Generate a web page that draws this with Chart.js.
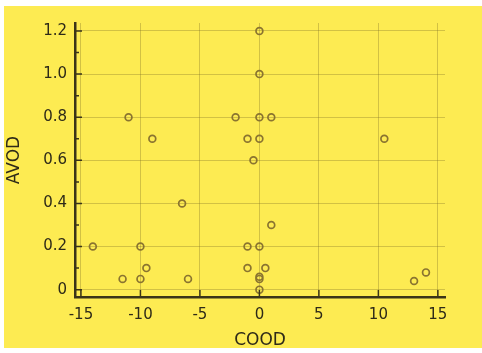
<!DOCTYPE html>
<html>
<head>
<meta charset="utf-8">
<script src="https://cdn.jsdelivr.net/npm/chart.js@4.4.1/dist/chart.umd.min.js"></script>
<style>
  html, body { margin: 0; padding: 0; background: #ffffff; }
  #wrap {
    position: absolute;
    left: 4px;
    top: 6px;
    width: 478px;
    height: 342px;
    background: #fdeb52;
  }
</style>
</head>
<body>
<div id="wrap"><canvas id="scatter"></canvas></div>
<script>
// axis ticks
const xTicks = [-15, -10, -5, 0, 5, 10, 15];
const yTicks = [0, 0.2, 0.4, 0.6, 0.8, 1.0, 1.2];
const yMinorTicks = [0.1, 0.3, 0.5, 0.7, 0.9, 1.1];

// data
const coodValues = [0, 0, -11, -2, 0, 1, -9, -1, 0, 10.5, -0.5, -6.5, 1, -14, -10, -1, 0, -9.5, -1, 0.5, -11.5, -10, -6, 0, 0, 0, 13, 14];
const avodValues = [1.2, 1.0, 0.8, 0.8, 0.8, 0.8, 0.7, 0.7, 0.7, 0.7, 0.6, 0.4, 0.3, 0.2, 0.2, 0.2, 0.2, 0.1, 0.1, 0.1, 0.05, 0.05, 0.05, 0.05, 0.06, 0, 0.04, 0.08];

const points = coodValues.map((x, i) => ({ x: x, y: avodValues[i] }));

const inkColor = "#2e2a18";
const axisColor = "#3a3418";
const gridColor = "rgba(130, 115, 40, 0.35)";

// tick marks drawn inward from the axis lines
const innerTicks = {
  id: "innerTicks",
  afterDraw(chart) {
    const ctx = chart.ctx;
    const area = chart.chartArea;
    const sx = chart.scales.x;
    const sy = chart.scales.y;
    ctx.save();
    ctx.strokeStyle = axisColor;
    ctx.lineWidth = 1.5;
    ctx.beginPath();
    xTicks.forEach((v) => {
      const px = sx.getPixelForValue(v);
      ctx.moveTo(px, area.bottom);
      ctx.lineTo(px, area.bottom - 7);
    });
    yTicks.forEach((v) => {
      const py = sy.getPixelForValue(v);
      ctx.moveTo(area.left, py);
      ctx.lineTo(area.left + 7, py);
    });
    yMinorTicks.forEach((v) => {
      const py = sy.getPixelForValue(v);
      ctx.moveTo(area.left, py);
      ctx.lineTo(area.left + 4, py);
    });
    ctx.stroke();
    ctx.restore();
  },
};

const ctx = document.getElementById("scatter").getContext("2d");

const scatterChart = new Chart(ctx, {
  type: "scatter",
  data: {
    datasets: [
      {
        data: points,
        pointRadius: 3.4,
        pointHoverRadius: 3.4,
        pointBorderWidth: 1.7,
        pointBorderColor: "#8a7430",
        pointBackgroundColor: "rgba(0,0,0,0)",
      },
    ],
  },
  plugins: [innerTicks],
  options: {
    responsive: true,
    maintainAspectRatio: false,
    animation: false,
    layout: {
      padding: { top: 15, right: 37, left: 0, bottom: 0 },
    },
    plugins: {
      legend: { display: false },
      tooltip: { enabled: false },
    },
    scales: {
      x: {
        type: "linear",
        min: -15.5,
        max: 15.6,
        afterBuildTicks: (s) => {
          s.ticks = xTicks.map((v) => ({ value: v }));
        },
        afterFit: (s) => {
          s.height = 51;
        },
        grid: { color: gridColor, lineWidth: 1, drawTicks: false },
        border: { color: axisColor, width: 2.5 },
        ticks: {
          padding: 9,
          color: inkColor,
          font: { family: "DejaVu Sans", size: 15 },
          maxRotation: 0,
          callback: (v) => String(v),
        },
        title: {
          display: true,
          text: "COOD",
          color: inkColor,
          padding: { top: 0, bottom: -1 },
          font: { family: "DejaVu Sans", size: 17, lineHeight: 1 },
        },
      },
      y: {
        type: "linear",
        min: -0.034,
        max: 1.237,
        afterBuildTicks: (s) => {
          s.ticks = yTicks.map((v) => ({ value: v }));
        },
        afterFit: (s) => {
          s.width = 71;
        },
        grid: { color: gridColor, lineWidth: 1, drawTicks: false },
        border: { color: axisColor, width: 2.5 },
        ticks: {
          padding: 8,
          color: inkColor,
          font: { family: "DejaVu Sans", size: 15 },
          callback: (v) => (v === 0 ? "0" : v.toFixed(1)),
        },
        title: {
          display: true,
          text: "AVOD",
          color: inkColor,
          padding: { top: 2, bottom: 0 },
          font: { family: "DejaVu Sans", size: 17, lineHeight: 1 },
        },
      },
    },
  },
});
</script>
</body>
</html>
